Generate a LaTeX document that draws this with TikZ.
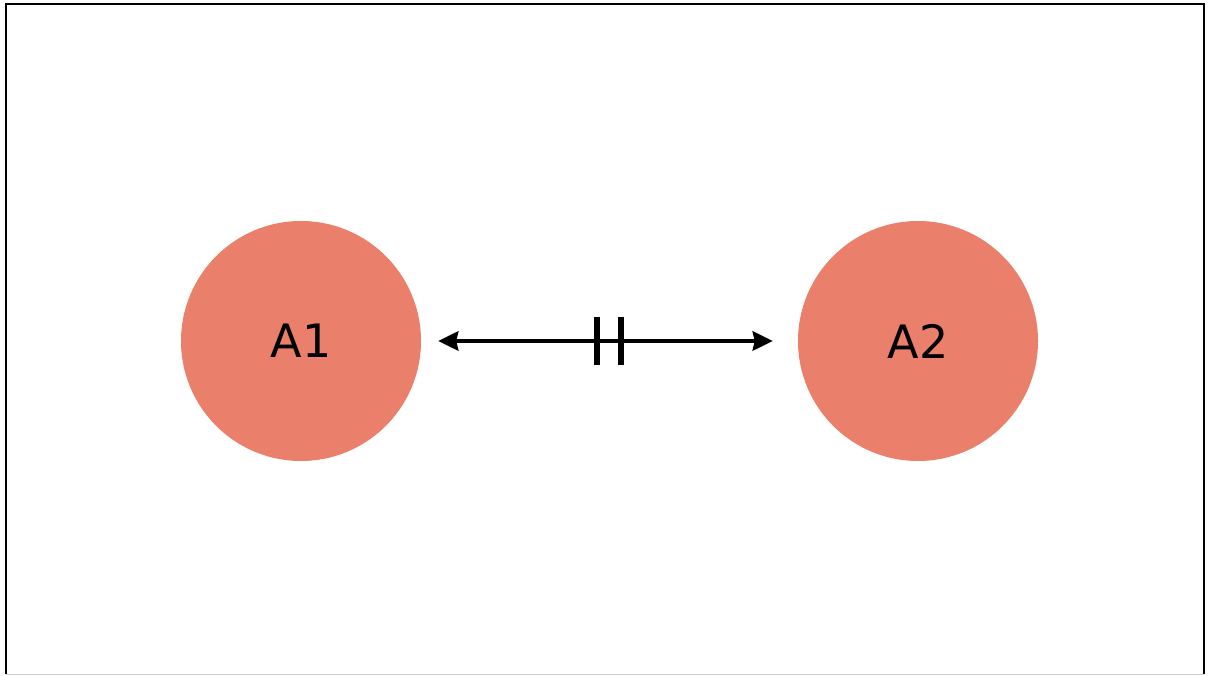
\documentclass[tikz,border=0pt]{standalone}
\usepackage{fontspec}
\setmainfont{DejaVu Sans}
\usetikzlibrary{arrows.meta}
\definecolor{salmon}{RGB}{234,127,107}
\tikzset{
  circ/.style={circle,fill=salmon,draw=none,minimum size=240pt,inner sep=0pt,font=\fontsize{46}{50}\selectfont},
  link/.style={line width=4.5pt,{Stealth[length=20pt,width=19pt,inset=2pt]}-{Stealth[length=20pt,width=19pt,inset=2pt]}},
  tickmark/.style={line width=6pt},
  frame/.style={line width=2.5pt,black}
}
\begin{document}
\begin{tikzpicture}[x=1pt,y=1pt]
\useasboundingbox (0,0) rectangle (1208,675);
\fill[white] (0,0) rectangle (1208,675);
\draw[frame] (6,1) -- (6,671) -- (1204,671) -- (1204,1);
\draw[gray!40,line width=1pt] (6,1) -- (1204,1);
\node[circ] (A1) at (301,334) {A1};
\node[circ] (A2) at (918,334) {A2};
\draw[link,shorten <=17pt,shorten >=25pt] (A1) -- (A2);
\draw[tickmark] (597,310) -- (597,358);
\draw[tickmark] (621,310) -- (621,358);
\end{tikzpicture}
\end{document}
